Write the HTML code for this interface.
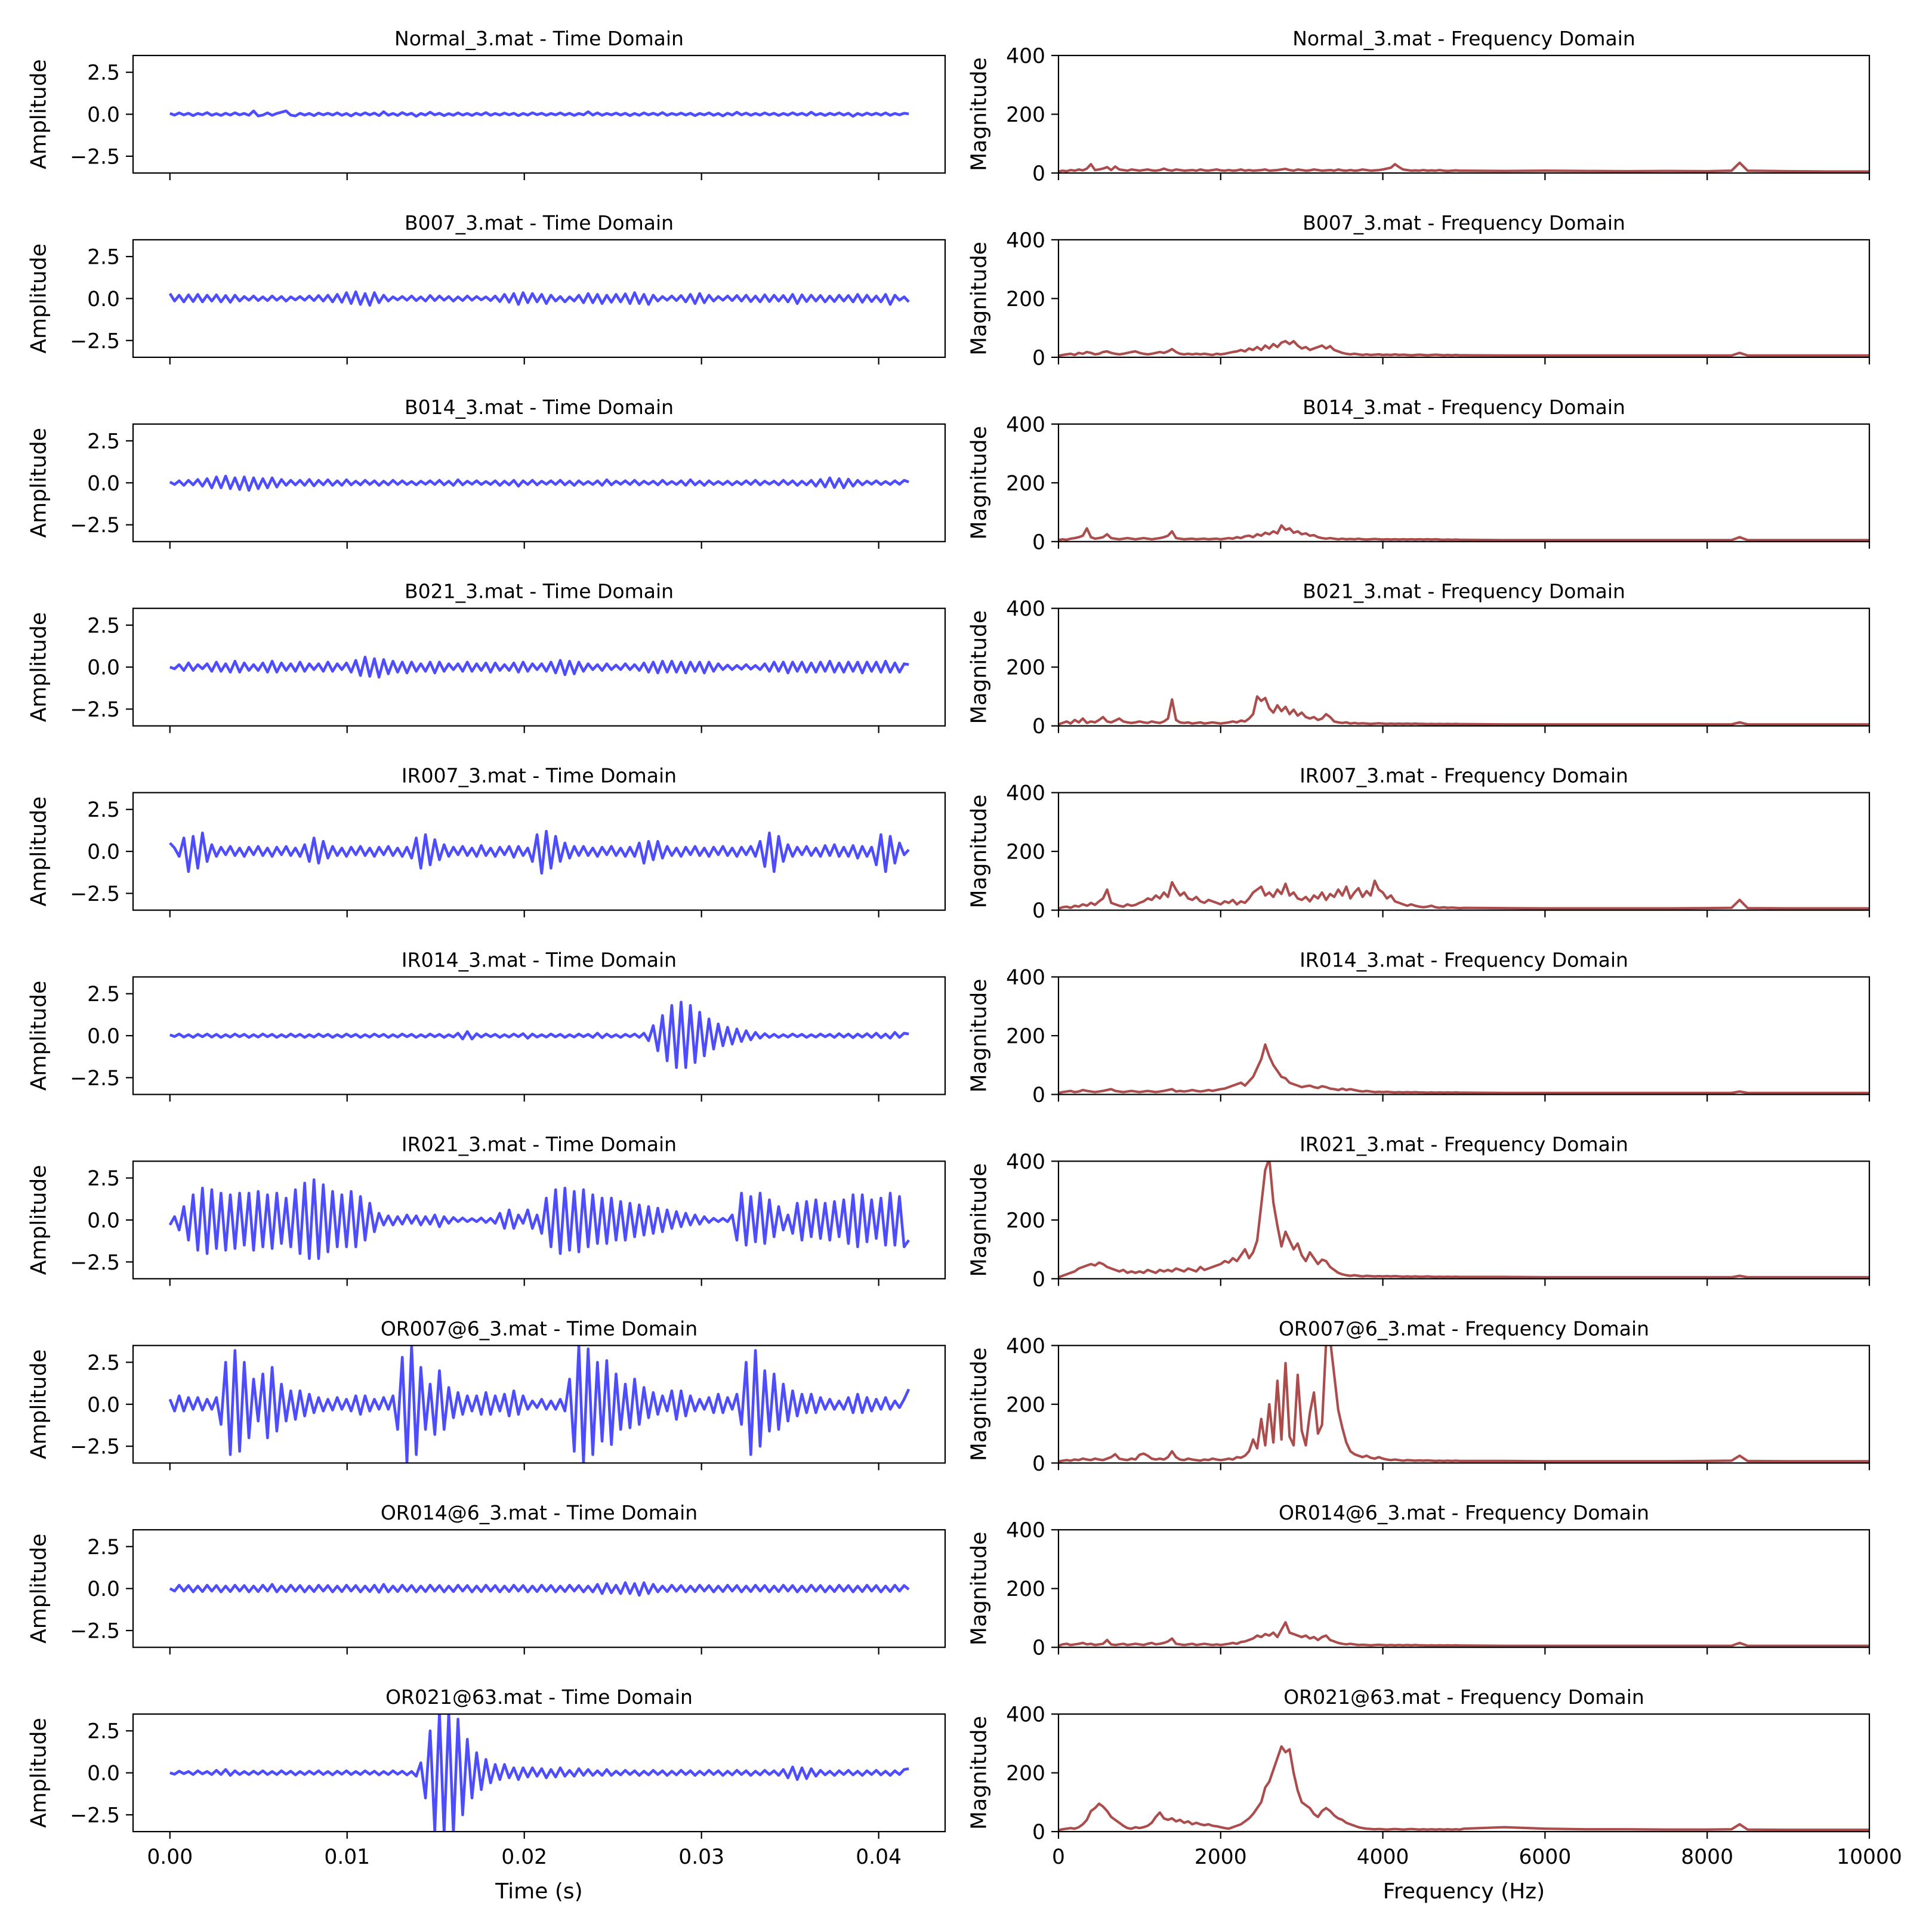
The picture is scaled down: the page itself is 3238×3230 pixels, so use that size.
<!DOCTYPE html>
<html><head><meta charset="utf-8"><style>
html,body{margin:0;padding:0;background:#fff;}
svg{display:block;font-family:"DejaVu Sans","Liberation Sans",sans-serif;}
</style></head><body>
<svg id="fig" width="3238" height="3230" viewBox="0 0 3238 3230" xmlns="http://www.w3.org/2000/svg"></svg>
<script>
// ---- data ----
const fileNames = ["Normal_3.mat","B007_3.mat","B014_3.mat","B021_3.mat","IR007_3.mat","IR014_3.mat","IR021_3.mat","OR007@6_3.mat","OR014@6_3.mat","OR021@63.mat"];
const timeTicks = [0, 0.01, 0.02, 0.03, 0.04];
const timeTickLabels = ["0.00","0.01","0.02","0.03","0.04"];
const ampTicks = [2.5, 0, -2.5];
const ampTickLabels = ["2.5","0.0","\u22122.5"];
const freqTicks = [0,2000,4000,6000,8000,10000];
const freqTickLabels = ["0","2000","4000","6000","8000","10000"];
const magTicks = [0,200,400];
const magTickLabels = ["0","200","400"];
const signalDuration = 0.0417;

const sigNormal = [0.05,-0.05,0.08,-0.04,0.06,-0.08,0.05,-0.03,0.1,-0.06,
0.04,-0.07,0.06,-0.05,0.09,-0.04,0.05,-0.06,0.2,-0.1,
-0.05,0.08,-0.06,0.05,0.12,0.2,-0.05,-0.1,0.06,-0.05,
0.05,-0.08,0.07,-0.04,0.06,-0.05,0.08,-0.06,0.05,-0.1,
0.06,-0.05,0.09,-0.04,0.07,-0.08,0.15,-0.06,0.05,-0.07,
0.1,-0.04,0.06,-0.12,0.05,-0.05,0.12,-0.04,0.06,-0.08,
0.04,-0.06,0.08,-0.05,0.05,-0.07,0.06,-0.04,0.1,-0.06,
0.05,-0.05,0.07,-0.04,0.06,-0.08,0.05,-0.05,0.09,-0.03,
0.06,-0.06,0.05,-0.04,0.08,-0.05,0.06,-0.07,0.05,-0.04,
0.15,-0.05,0.08,-0.06,0.05,-0.04,0.07,-0.05,0.06,-0.08,
0.05,-0.06,0.08,-0.04,0.06,-0.05,0.1,-0.06,0.05,-0.04,
0.07,-0.05,0.06,-0.08,0.05,-0.04,0.08,-0.06,0.05,-0.1,
0.06,-0.05,0.12,-0.04,0.07,-0.06,0.05,-0.05,0.08,-0.04,
0.06,-0.07,0.05,-0.05,0.09,-0.04,0.06,-0.06,0.12,-0.05,
0.05,-0.07,0.06,-0.04,0.08,-0.05,0.06,-0.12,0.05,-0.06,
0.07,-0.04,0.06,-0.05,0.08,-0.06,0.05,-0.04,0.06,0.02];
const sigB007 = [0.3,-0.15,0.2,-0.2,0.22,-0.18,0.25,-0.2,0.2,-0.15,
0.22,-0.2,0.18,-0.22,0.2,-0.15,0.12,-0.1,0.15,-0.12,
0.1,-0.12,0.15,-0.1,0.12,-0.15,0.1,-0.08,0.12,-0.1,
0.15,-0.12,0.18,-0.15,0.2,-0.2,0.25,-0.22,0.35,-0.3,
0.4,-0.35,0.3,-0.4,0.35,-0.25,0.2,-0.15,0.1,-0.08,
0.12,-0.1,0.15,-0.12,0.1,-0.15,0.18,-0.12,0.15,-0.1,
0.12,-0.15,0.1,-0.12,0.15,-0.1,0.12,-0.08,0.1,-0.12,
0.15,-0.18,0.25,-0.22,0.3,-0.35,0.35,-0.25,0.3,-0.2,
0.25,-0.3,0.2,-0.15,0.12,-0.2,0.1,-0.15,0.2,-0.25,
0.3,-0.25,0.25,-0.3,0.2,-0.22,0.25,-0.2,0.28,-0.3,
0.35,-0.3,0.25,-0.35,0.2,-0.15,0.12,-0.1,0.15,-0.12,
0.18,-0.2,0.25,-0.3,0.3,-0.25,0.2,-0.15,0.12,-0.1,
0.15,-0.12,0.18,-0.15,0.2,-0.18,0.15,-0.2,0.22,-0.18,
0.2,-0.15,0.18,-0.2,0.25,-0.3,0.22,-0.18,0.2,-0.15,
0.18,-0.2,0.15,-0.18,0.2,-0.15,0.18,-0.2,0.25,-0.22,
0.2,-0.18,0.15,-0.2,0.25,-0.35,0.2,-0.1,0.1,-0.2];
const sigB014 = [0.05,-0.1,0.12,-0.15,0.15,-0.12,0.2,-0.2,0.25,-0.3,
0.35,-0.3,0.4,-0.35,0.3,-0.4,0.35,-0.45,0.3,-0.35,
0.25,-0.3,0.3,-0.25,0.2,-0.15,0.15,-0.12,0.15,-0.15,
0.2,-0.18,0.15,-0.12,0.18,-0.15,0.12,-0.15,0.18,-0.12,
0.1,-0.12,0.15,-0.1,0.12,-0.15,0.1,-0.12,0.15,-0.1,
0.12,-0.1,0.08,-0.12,0.1,-0.08,0.12,-0.1,0.15,-0.12,
0.1,-0.15,0.18,-0.12,0.1,-0.08,0.12,-0.1,0.08,-0.1,
0.12,-0.15,0.1,-0.12,0.15,-0.2,0.12,-0.1,0.15,-0.12,
0.1,-0.08,0.12,-0.1,0.15,-0.12,0.1,-0.15,0.12,-0.1,
0.08,-0.1,0.12,-0.15,0.18,-0.12,0.1,-0.08,0.12,-0.1,
0.15,-0.12,0.1,-0.08,0.1,-0.12,0.15,-0.1,0.08,-0.1,
0.12,-0.15,0.18,-0.12,0.1,-0.15,0.12,-0.1,0.08,-0.1,
0.1,-0.12,0.08,-0.1,0.12,-0.1,0.15,-0.12,0.1,-0.08,
0.1,-0.12,0.15,-0.1,0.12,-0.15,0.1,-0.12,0.15,-0.2,
0.2,-0.25,0.3,-0.28,0.25,-0.3,0.22,-0.2,0.15,-0.12,
0.1,-0.08,0.12,-0.1,0.08,-0.1,0.12,-0.08,0.15,0.05];
const sigB021 = [0.0,-0.1,0.15,-0.2,0.25,-0.2,0.15,-0.1,0.2,-0.25,
0.3,-0.25,0.2,-0.3,0.35,-0.3,0.25,-0.2,0.15,-0.2,
0.25,-0.3,0.35,-0.3,0.25,-0.2,0.2,-0.25,0.3,-0.25,
0.2,-0.15,0.2,-0.25,0.3,-0.25,0.2,-0.15,0.25,-0.3,
0.4,-0.5,0.6,-0.55,0.5,-0.6,0.45,-0.4,0.35,-0.3,
0.3,-0.35,0.3,-0.25,0.2,-0.25,0.3,-0.35,0.3,-0.25,
0.2,-0.15,0.2,-0.25,0.3,-0.25,0.2,-0.2,0.25,-0.3,
0.25,-0.2,0.15,-0.2,0.25,-0.3,0.3,-0.25,0.2,-0.15,
0.2,-0.25,0.3,-0.35,0.4,-0.45,0.35,-0.4,0.3,-0.25,
0.2,-0.15,0.15,-0.2,0.2,-0.15,0.12,-0.15,0.2,-0.15,
0.15,-0.2,0.25,-0.3,0.3,-0.35,0.35,-0.3,0.35,-0.3,
0.3,-0.35,0.3,-0.25,0.3,-0.35,0.3,-0.25,0.2,-0.15,
0.12,-0.15,0.1,-0.12,0.15,-0.12,0.1,-0.15,0.2,-0.25,
0.3,-0.25,0.3,-0.35,0.3,-0.25,0.3,-0.3,0.25,-0.3,
0.3,-0.25,0.35,-0.3,0.25,-0.3,0.3,-0.25,0.3,-0.35,
0.3,-0.25,0.3,-0.3,0.35,-0.3,0.25,-0.3,0.2,0.15];
const sigIR007 = [0.5,0.2,-0.3,0.8,-1.2,0.9,-1.0,1.1,-0.6,0.4,
-0.3,0.25,-0.2,0.3,-0.25,0.2,-0.3,0.25,-0.2,0.3,
-0.25,0.2,-0.3,0.25,-0.2,0.3,-0.25,0.2,-0.3,0.4,
-0.6,0.8,-0.7,0.6,-0.4,0.3,-0.25,0.2,-0.3,0.25,
-0.2,0.3,-0.25,0.2,-0.3,0.25,-0.2,0.3,-0.25,0.2,
-0.3,0.25,-0.4,0.8,-1.0,1.0,-0.8,0.7,-0.5,0.4,
-0.3,0.25,-0.2,0.3,-0.25,0.2,-0.3,0.35,-0.25,0.2,
-0.3,0.25,-0.2,0.3,-0.35,0.3,-0.25,0.2,-0.6,1.0,
-1.3,1.2,-1.0,0.9,-0.6,0.5,-0.4,0.3,-0.25,0.3,
-0.25,0.2,-0.3,0.25,-0.2,0.3,-0.25,0.2,-0.3,0.25,
-0.3,0.5,-0.7,0.6,-0.5,0.6,-0.4,0.3,-0.25,0.2,
-0.3,0.25,-0.2,0.3,-0.25,0.2,-0.3,0.25,-0.2,0.3,
-0.25,0.2,-0.3,0.25,-0.2,0.3,-0.3,0.6,-0.9,1.1,
-1.2,0.9,-0.6,0.4,-0.3,0.25,-0.2,0.3,-0.25,0.2,
-0.3,0.35,-0.25,0.4,-0.3,0.25,-0.3,0.35,-0.4,0.3,
-0.3,0.25,-0.8,1.0,-1.2,0.9,-0.7,0.5,-0.2,0.1];
const sigIR014 = [0.05,-0.05,0.1,-0.08,0.06,-0.1,0.08,-0.06,0.1,-0.08,
0.08,-0.1,0.06,-0.08,0.1,-0.06,0.08,-0.1,0.06,-0.08,
0.1,-0.06,0.08,-0.1,0.06,-0.08,0.1,-0.06,0.08,-0.1,
0.06,-0.08,0.1,-0.06,0.08,-0.1,0.06,-0.08,0.1,-0.06,
0.08,-0.1,0.06,-0.08,0.1,-0.06,0.08,-0.1,0.06,-0.08,
0.1,-0.06,0.08,-0.1,0.06,-0.08,0.1,-0.06,0.08,-0.1,
0.06,-0.08,0.15,-0.2,0.25,-0.2,0.12,-0.08,0.1,-0.06,
0.08,-0.1,0.06,-0.08,0.1,-0.06,0.12,-0.15,0.1,-0.08,
0.06,-0.08,0.1,-0.06,0.08,-0.1,0.06,-0.08,0.1,-0.06,
0.08,-0.1,0.15,-0.12,0.1,-0.08,0.06,-0.1,0.08,-0.06,
0.1,-0.1,0.15,-0.3,0.6,-0.9,1.2,-1.5,1.8,-1.9,
2.0,-1.9,1.8,-1.6,1.4,-1.2,1.0,-0.8,0.7,-0.6,
0.5,-0.5,0.4,-0.35,0.3,-0.25,0.2,-0.15,0.12,-0.1,
0.08,-0.1,0.06,-0.08,0.1,-0.06,0.08,-0.1,0.06,-0.08,
0.1,-0.06,0.08,-0.1,0.12,-0.08,0.1,-0.12,0.1,-0.08,
0.12,-0.1,0.15,-0.12,0.1,-0.15,0.2,-0.1,0.15,0.1];
const sigIR021 = [-0.3,0.2,-0.6,0.8,-1.2,1.5,-1.8,1.9,-2.0,1.8,
-1.7,1.6,-1.8,1.5,-1.7,1.6,-1.5,1.6,-1.8,1.7,
-1.6,1.5,-1.7,1.6,-1.4,1.3,-1.6,1.8,-2.0,2.2,
-2.3,2.4,-2.3,2.1,-1.9,1.7,-1.6,1.5,-1.6,1.7,
-1.6,1.4,-1.2,1.0,-0.7,0.4,-0.3,0.25,-0.3,0.2,
-0.25,0.3,-0.2,0.25,-0.3,0.2,-0.25,0.3,-0.4,0.2,
-0.2,0.15,-0.1,0.12,-0.1,0.08,-0.1,0.12,-0.15,0.1,
-0.2,0.4,-0.5,0.6,-0.5,0.3,-0.2,0.6,-0.5,0.3,
-0.8,1.3,-1.6,1.8,-2.0,1.9,-1.8,1.7,-1.9,1.8,
-1.6,1.5,-1.4,1.3,-1.4,1.3,-1.2,1.1,-1.2,1.0,
-1.0,0.9,-0.9,0.8,-0.8,0.7,-0.7,0.6,-0.5,0.5,
-0.4,0.4,-0.3,0.3,-0.25,0.2,-0.15,0.1,-0.1,0.1,
-0.1,0.3,-1.2,1.6,-1.5,1.4,-1.3,1.6,-1.4,1.2,
-1.0,0.8,-0.6,0.3,-0.8,1.0,-1.2,1.1,-1.0,1.2,
-1.1,1.0,-1.2,1.1,-1.0,1.2,-1.4,1.5,-1.6,1.5,
-1.3,1.2,-1.1,1.3,-1.5,1.6,-1.5,1.4,-1.6,-1.2];
const sigOR007 = [0.3,-0.4,0.5,-0.4,0.4,-0.3,0.4,-0.35,0.3,-0.3,
0.4,-1.2,2.5,-3.0,3.2,-2.8,2.5,-2.0,1.5,-1.0,
1.8,-2.0,2.2,-1.6,1.2,-1.0,0.8,-0.9,0.8,-0.7,
0.6,-0.5,0.4,-0.4,0.3,-0.35,0.4,-0.3,0.3,-0.4,
0.5,-0.6,0.5,-0.4,0.3,-0.3,0.4,-0.3,0.5,-1.5,
2.8,-3.5,3.5,-3.0,2.2,-1.5,1.2,-1.8,2.0,-1.5,
1.0,-0.8,0.7,-0.6,0.5,-0.4,0.5,-0.6,0.7,-0.6,
0.5,-0.4,0.6,-0.7,0.8,-0.6,0.5,-0.3,0.2,-0.2,
0.3,-0.3,0.2,-0.3,0.3,-0.4,1.5,-2.8,3.5,-3.5,
3.3,-3.0,2.5,-2.2,2.6,-2.4,1.8,-1.5,1.2,-1.4,
1.5,-1.2,1.0,-0.8,0.7,-0.6,0.5,-0.4,0.8,-0.9,
0.8,-0.7,0.5,-0.4,0.3,-0.3,0.4,-0.5,0.6,-0.5,
0.4,-0.3,0.6,-1.2,2.5,-3.0,3.2,-2.5,2.0,-1.6,
1.8,-1.5,1.2,-1.0,0.8,-0.7,0.6,-0.5,0.6,-0.5,
0.4,-0.3,0.3,-0.3,0.2,-0.3,0.4,-0.5,0.6,-0.5,
0.4,-0.4,0.3,-0.3,0.4,-0.3,0.2,-0.2,0.3,0.9];
const sigOR014 = [0.0,-0.15,0.2,-0.15,0.18,-0.2,0.15,-0.18,0.2,-0.15,
0.18,-0.2,0.15,-0.18,0.2,-0.15,0.18,-0.2,0.15,-0.18,
0.2,-0.15,0.25,-0.2,0.15,-0.18,0.2,-0.15,0.18,-0.2,
0.15,-0.18,0.2,-0.15,0.18,-0.2,0.15,-0.18,0.2,-0.15,
0.18,-0.2,0.15,-0.18,0.2,-0.22,0.25,-0.2,0.15,-0.18,
0.2,-0.15,0.18,-0.2,0.15,-0.18,0.2,-0.15,0.18,-0.2,
0.15,-0.18,0.2,-0.15,0.18,-0.2,0.15,-0.18,0.2,-0.15,
0.18,-0.2,0.15,-0.18,0.2,-0.15,0.18,-0.2,0.15,-0.18,
0.2,-0.15,0.18,-0.2,0.15,-0.18,0.2,-0.15,0.18,-0.2,
0.15,-0.2,0.25,-0.3,0.3,-0.25,0.2,-0.3,0.35,-0.3,
0.3,-0.4,0.35,-0.3,0.25,-0.2,0.15,-0.18,0.2,-0.15,
0.18,-0.2,0.15,-0.18,0.2,-0.15,0.18,-0.2,0.15,-0.18,
0.2,-0.15,0.18,-0.2,0.15,-0.18,0.2,-0.15,0.18,-0.2,
0.15,-0.18,0.2,-0.15,0.18,-0.2,0.15,-0.18,0.2,-0.15,
0.18,-0.2,0.15,-0.18,0.2,-0.15,0.18,-0.2,0.15,-0.18,
0.2,-0.15,0.18,-0.2,0.15,-0.18,0.2,-0.15,0.18,-0.05];
const sigOR021 = [0.0,-0.08,0.1,-0.05,0.08,-0.1,0.12,-0.06,0.08,-0.1,
0.15,-0.1,0.2,-0.15,0.12,-0.1,0.08,-0.1,0.1,-0.08,
0.12,-0.1,0.08,-0.1,0.12,-0.08,0.1,-0.12,0.08,-0.1,
0.1,-0.08,0.12,-0.1,0.08,-0.12,0.1,-0.08,0.12,-0.1,
0.08,-0.1,0.12,-0.08,0.1,-0.12,0.08,-0.1,0.12,-0.08,
0.1,-0.12,0.08,-0.2,0.6,-1.5,2.5,-3.5,3.6,-3.6,
3.6,-3.6,3.2,-2.5,2.0,-1.5,1.2,-1.0,0.8,-0.6,
0.5,-0.4,0.5,-0.3,0.3,-0.4,0.3,-0.25,0.3,-0.2,
0.25,-0.3,0.2,-0.25,0.3,-0.2,0.15,-0.2,0.25,-0.15,
0.2,-0.15,0.12,-0.15,0.2,-0.15,0.1,-0.12,0.15,-0.1,
0.12,-0.15,0.1,-0.12,0.15,-0.1,0.12,-0.15,0.1,-0.12,
0.15,-0.1,0.12,-0.15,0.1,-0.12,0.15,-0.1,0.12,-0.15,
0.1,-0.12,0.15,-0.1,0.12,-0.15,0.1,-0.12,0.15,-0.1,
0.12,-0.15,0.2,-0.3,0.35,-0.4,0.3,-0.35,0.25,-0.2,
0.15,-0.12,0.1,-0.15,0.12,-0.1,0.15,-0.12,0.1,-0.15,
0.12,-0.1,0.15,-0.12,0.1,-0.15,0.12,-0.1,0.2,0.25];

const freqs = [0,50,100,150,200,250,300,350,400,450,
500,550,600,650,700,750,800,850,900,950,
1000,1050,1100,1150,1200,1250,1300,1350,1400,1450,
1500,1550,1600,1650,1700,1750,1800,1850,1900,1950,
2000,2050,2100,2150,2200,2250,2300,2350,2400,2450,
2500,2550,2600,2650,2700,2750,2800,2850,2900,2950,
3000,3050,3100,3150,3200,3250,3300,3350,3400,3450,
3500,3550,3600,3650,3700,3750,3800,3850,3900,3950,
4000,4050,4100,4150,4200,4250,4300,4350,4400,4450,
4500,4550,4600,4650,4700,4750,4800,4850,4900,4950,
5000,5500,6000,6500,7000,7500,8000,8300,8400,8500,9000,9500,10000];

const magNormal = [5,8,6,10,8,12,9,15,30,10, 12,15,20,10,22,12,10,8,12,10, 8,10,12,9,8,10,15,10,8,12, 10,8,9,10,8,12,9,8,10,12, 9,8,10,8,9,12,8,10,8,9, 10,12,8,9,10,12,14,10,8,12, 10,8,9,12,10,8,9,10,8,12, 9,8,10,8,9,12,10,8,9,10, 12,15,18,30,20,12,10,8,9,8, 10,8,9,8,10,8,7,8,9,8, 8, 7,8,7,6,7,6,8,35,8,6,5,5];
const magB007 = [5,8,10,12,8,15,12,18,15,10, 12,18,20,15,12,10,12,15,18,20, 15,12,10,12,15,18,15,20,28,18, 12,10,12,10,12,10,12,10,8,12, 10,12,15,18,20,25,20,30,25,35, 25,40,30,45,35,50,55,45,55,40, 30,35,25,30,35,40,30,38,25,20, 15,12,10,12,10,8,10,8,9,10, 8,9,8,10,8,9,8,7,8,9, 8,7,8,9,8,7,8,7,8,7, 7, 6,6,6,6,6,6,6,15,6,6,6,6];
const magB014 = [5,8,6,10,12,15,20,45,15,10, 12,15,25,12,10,8,10,12,10,8, 10,12,10,8,10,12,15,20,35,12, 10,8,9,10,8,9,10,8,9,10, 8,10,12,10,15,12,18,20,15,25, 20,30,25,35,28,55,40,45,30,35, 25,28,20,22,15,12,10,12,10,8, 10,8,9,8,10,8,7,8,9,8, 7,8,7,8,7,8,7,8,7,8, 7,8,7,8,7,6,7,6,7,6, 6, 5,5,5,5,5,5,5,15,5,5,5,5];
const magB021 = [5,10,15,8,20,12,25,10,15,12, 20,30,15,12,18,25,15,12,10,12, 15,12,10,15,12,10,15,25,90,20, 12,10,12,8,10,12,8,10,12,10, 8,10,12,15,12,18,15,25,40,100, 85,95,60,45,70,50,65,40,55,35, 45,30,25,30,20,25,40,30,15,12, 10,12,8,10,8,9,8,7,8,9, 8,7,8,7,8,7,8,7,8,7, 7,6,7,6,7,6,7,6,7,6, 6, 5,5,5,5,5,5,5,12,5,5,5,5];
const magIR007 = [5,10,12,8,15,12,20,15,25,18, 30,40,70,25,20,15,12,20,15,18, 25,30,40,35,50,40,60,45,95,70, 50,60,40,35,45,30,25,35,30,25, 20,30,25,35,20,30,25,40,60,70, 80,50,60,45,70,55,90,50,60,40, 35,45,30,50,40,60,35,55,45,70, 50,80,40,60,75,45,65,50,100,70, 60,40,50,30,25,20,15,20,15,12, 10,12,15,10,8,10,8,9,8,7, 8, 7,6,6,6,6,7,8,35,7,6,6,6];
const magIR014 = [5,8,10,12,8,10,15,12,10,8, 10,12,15,18,12,10,8,10,12,10, 8,10,12,10,8,10,12,15,18,10, 12,10,12,15,12,10,12,15,12,15, 18,20,25,30,35,40,30,45,60,90, 120,170,130,100,80,60,55,40,35,30, 25,28,30,25,22,28,25,20,18,15, 20,15,18,15,12,10,12,10,8,9, 8,9,8,7,8,7,8,7,8,7, 7,6,7,6,7,6,7,6,7,6, 6, 5,5,5,5,5,5,5,10,5,5,5,5];
const magIR021 = [5,10,15,20,25,35,40,45,50,45, 55,50,40,35,30,25,30,20,25,20, 25,20,30,25,20,30,25,30,25,35, 30,25,35,30,25,40,30,35,40,45, 50,60,55,70,60,80,100,70,90,130, 250,370,410,260,180,110,160,130,100,120, 80,60,90,70,50,65,60,40,30,20, 15,12,10,12,10,8,10,9,8,9, 8,9,8,9,8,7,8,7,8,7, 7,8,7,6,7,6,7,6,7,6, 6, 6,5,5,5,5,5,5,10,5,5,5,5];
const magOR007 = [5,8,10,8,12,10,15,12,10,15, 12,10,15,20,30,15,12,10,15,12, 28,32,25,15,12,15,12,20,40,20, 12,10,15,12,10,8,12,10,15,12, 10,12,15,12,20,18,25,40,80,50, 150,60,200,70,280,80,340,90,60,300, 110,60,170,240,100,130,410,420,300,180, 120,70,40,30,25,20,25,18,15,20, 15,12,10,12,10,8,10,9,8,9, 8,9,8,7,8,7,8,7,8,7, 7, 7,6,6,6,6,7,8,25,7,6,6,6];
const magOR014 = [5,10,12,8,10,12,15,10,12,8, 10,12,25,10,8,10,12,8,10,12, 10,8,12,15,10,12,15,20,30,12, 10,8,10,12,8,10,12,10,8,10, 8,10,12,15,12,18,20,25,30,40, 35,45,40,50,35,60,85,50,45,40, 35,40,30,35,25,35,40,25,20,15, 12,10,12,10,8,9,8,7,8,9, 8,7,8,7,8,7,8,7,8,7, 7,6,7,6,7,6,7,6,7,6, 6, 5,5,5,5,5,5,5,15,5,5,5,5];
const magOR021 = [5,8,10,12,10,15,25,40,70,80, 95,85,70,50,40,30,20,12,10,15, 12,15,20,30,50,65,45,40,45,35, 40,30,35,25,30,25,22,25,20,18, 15,12,10,15,20,25,35,45,60,80, 100,150,170,210,250,290,270,280,200,140, 100,90,80,60,50,70,80,70,55,45, 40,30,25,20,15,12,10,9,8,9, 8,7,8,9,8,7,8,9,8,7, 8,7,8,7,8,7,8,7,8,7, 10, 15,10,8,8,7,7,8,25,7,6,6,6];

const timeSeries = [sigNormal,sigB007,sigB014,sigB021,sigIR007,sigIR014,sigIR021,sigOR007,sigOR014,sigOR021];
const freqSeries = [magNormal,magB007,magB014,magB021,magIR007,magIR014,magIR021,magOR007,magOR014,magOR021];

// ---- layout ----
const NS = "http://www.w3.org/2000/svg";
const svg = document.getElementById("fig");
const L = {tx0:223, tx1:1584, fx0:1774, fx1:3133, top0:93, pitch:308.9, h:197};
const tMin = -0.00208, tMax = 0.04375, aMin = -3.5, aMax = 3.5, fMin = 0, fMax = 10000, mMin = 0, mMax = 400;
const BLUE = "rgb(77,77,255)", RED = "rgb(172,77,77)";

function mk(tag, attrs, parent){
  const e = document.createElementNS(NS, tag);
  for (const k in attrs) e.setAttribute(k, attrs[k]);
  (parent||svg).appendChild(e);
  return e;
}
function txt(s, attrs, parent){ const e = mk("text", attrs, parent); e.textContent = s; return e; }

for (let r = 0; r < 10; r++) {
  const top = L.top0 + r*L.pitch, bot = top + L.h;
  const last = r === 9;
  [0,1].forEach(function(c){
    const x0 = c===0 ? L.tx0 : L.fx0, x1 = c===0 ? L.tx1 : L.fx1;
    const xMin = c===0 ? tMin : fMin, xMax = c===0 ? tMax : fMax;
    const yMin = c===0 ? aMin : mMin, yMax = c===0 ? aMax : mMax;
    const xs = v => x0 + (v - xMin)/(xMax - xMin)*(x1 - x0);
    const ys = v => bot - (v - yMin)/(yMax - yMin)*(bot - top);
    const g = mk("g", {});
    
    
    const cid = "clip"+r+"_"+c;
    const cp = mk("clipPath", {id:cid}, g);
    mk("rect", {x:x0, y:top, width:x1-x0, height:bot-top}, cp);
    let d = "";
    if (c===0) {
      const s = timeSeries[r], n = s.length;
      for (let i = 0; i < n; i++) { const t = signalDuration*i/(n-1); d += (i?"L":"M")+xs(t).toFixed(1)+","+ys(s[i]).toFixed(1); }
    } else {
      const s = freqSeries[r];
      for (let i = 0; i < s.length; i++) { d += (i?"L":"M")+xs(freqs[i]).toFixed(1)+","+ys(s[i]).toFixed(1); }
    }
    const line = mk("path", {d:d, fill:"none", stroke:c===0?BLUE:RED, "stroke-width":c===0?4.6:4.2, "stroke-linejoin":"round", "clip-path":"url(#"+cid+")"}, g);
    
    
    const fr = mk("rect", {x:x0, y:top, width:x1-x0, height:bot-top, fill:"none", stroke:"#000", "stroke-width":2.2}, g);
    
    
    const xt = c===0 ? timeTicks : freqTicks, xl = c===0 ? timeTickLabels : freqTickLabels;
    xt.forEach(function(v,i){
      const x = xs(v);
      const tk = mk("line", {x1:x, x2:x, y1:bot, y2:bot+12, stroke:"#000", "stroke-width":2.2}, g);
      
      
      if (last) {
        const tl = txt(xl[i], {x:x, y:bot+54, "font-size":34.5, "text-anchor":"middle", fill:"#000"}, g);
        
        
      }
    });
    const yt = c===0 ? ampTicks : magTicks, yl = c===0 ? ampTickLabels : magTickLabels;
    yt.forEach(function(v,i){
      const y = ys(v);
      const tk = mk("line", {x1:x0-12, x2:x0, y1:y, y2:y, stroke:"#000", "stroke-width":2.2}, g);
      
      
      const tl = txt(yl[i], {x:x0-22, y:y+12.5, "font-size":34.5, "text-anchor":"end", fill:"#000"}, g);
      
      
    });
    const lx = c===0 ? x0-158 : x0-133, ly = (top+bot)/2;
    const yl2 = txt(c===0?"Amplitude":"Magnitude", {x:lx, y:ly, "font-size":36, "text-anchor":"middle", "dominant-baseline":"central", transform:"rotate(-90 "+lx+" "+ly+")", fill:"#000"}, g);
    
    
    const tt = txt(fileNames[r]+(c===0?" - Time Domain":" - Frequency Domain"), {x:(x0+x1)/2, y:top-17, "font-size":33, "text-anchor":"middle", fill:"#000"}, g);
    
    
    if (last) {
      const xl2 = txt(c===0?"Time (s)":"Frequency (Hz)", {x:(x0+x1)/2, y:bot+112, "font-size":36, "text-anchor":"middle", fill:"#000"}, g);
      
      
    }
  });
}
</script>
</body></html>
